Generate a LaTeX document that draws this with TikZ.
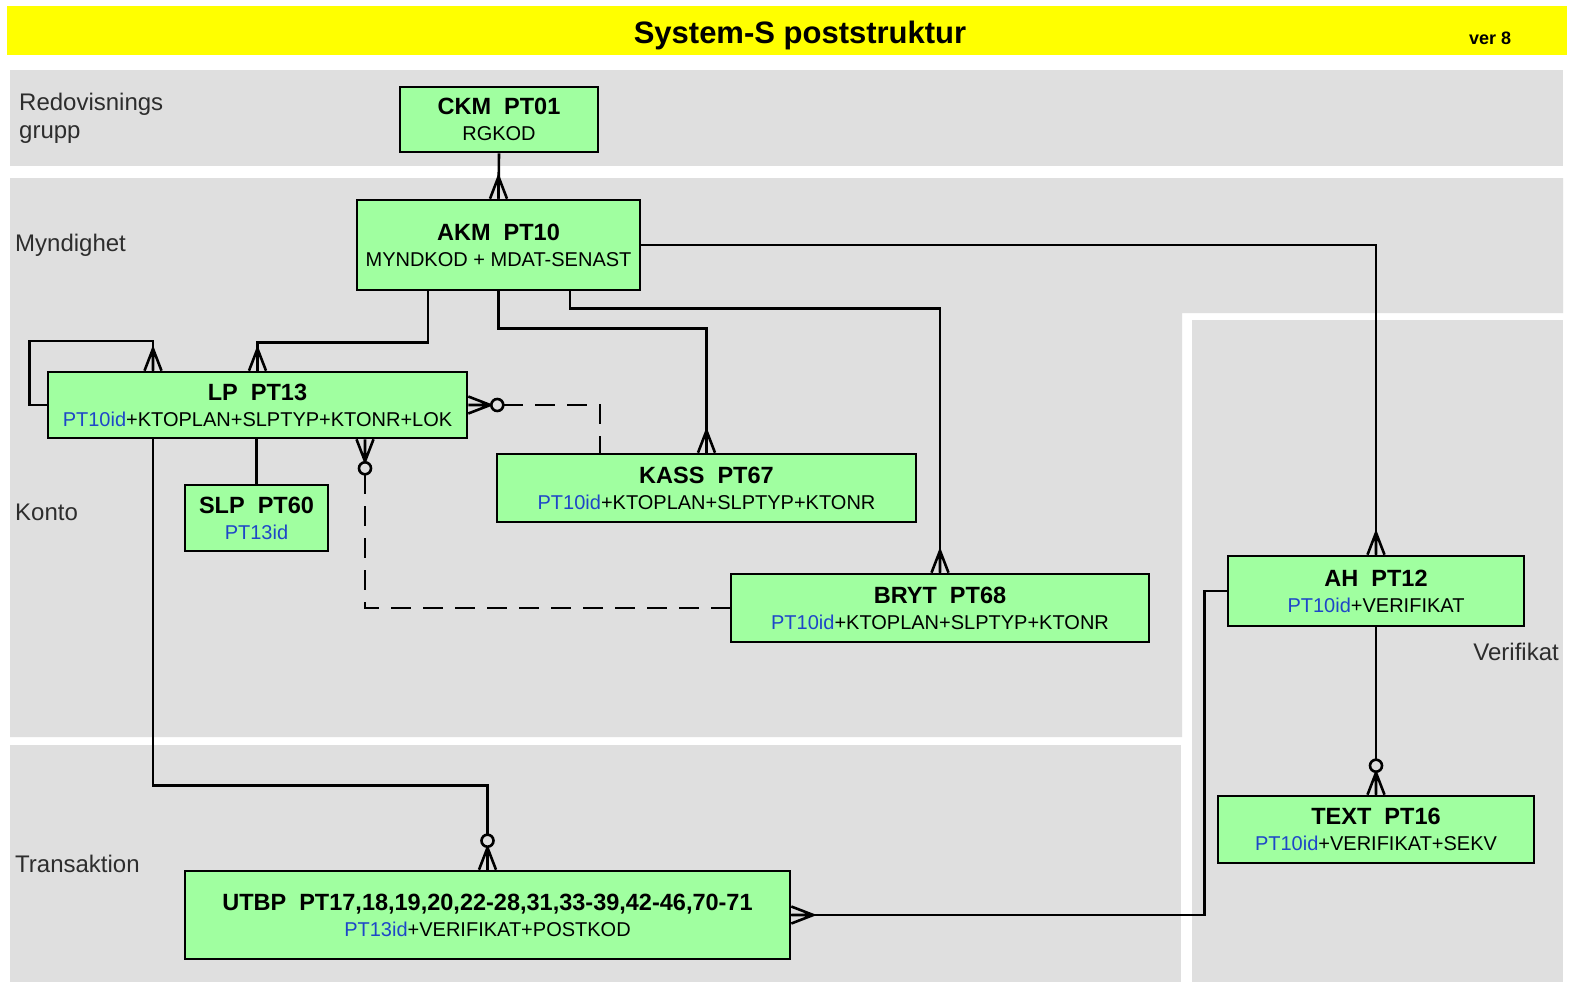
\documentclass[tikz,border=0pt]{standalone}
\usepackage{fontspec}
\setmainfont{Liberation Sans}
\definecolor{barYellow}{RGB}{255,255,0}
\definecolor{bandGrey}{RGB}{223,223,223}
\definecolor{boxGreen}{RGB}{160,255,160}
\definecolor{keyBlue}{RGB}{30,70,200}
\definecolor{lblGrey}{RGB}{45,45,45}
\newcommand{\hd}[1]{{\fontsize{23.5}{26}\selectfont\bfseries #1}}
\newcommand{\pk}[1]{\textcolor{keyBlue}{#1}}
\tikzset{
  entity/.style={draw, line width=2.6pt, fill=boxGreen, align=center, inner sep=0pt,
    font=\fontsize{20}{26}\selectfont},
  lbl/.style={font=\fontsize{24}{28}\selectfont, text=lblGrey, align=left, inner sep=0pt},
  rel/.style={line width=2.6pt},
  optrel/.style={rel, dash pattern=on 20pt off 12pt},
  crowN/.pic={\draw[rel] (-8.5,0) -- (0,-22) -- (8.5,0) (0,0) -- (0,-22);},
  crowS/.pic={\draw[rel] (-8.5,0) -- (0,22) -- (8.5,0) (0,0) -- (0,22);},
  crowE/.pic={\draw[rel] (0,-8.5) -- (22,0) -- (0,8.5) (0,0) -- (22,0);},
  zeroN/.pic={\draw[rel, fill=bandGrey] (0,-29) circle[radius=6pt];},
  zeroS/.pic={\draw[rel, fill=bandGrey] (0,29) circle[radius=6pt];},
  zeroE/.pic={\draw[rel, fill=bandGrey] (29,0) circle[radius=6pt];},
}

\begin{document}
\begin{tikzpicture}[x=1pt,y=-1pt]
\useasboundingbox[fill=white] (0,0) rectangle (1573,982);
% bands
\fill[barYellow] (7,6) rectangle (1567,55);
\fill[bandGrey] (10,70) rectangle (1563,166);
\fill[bandGrey] (10,178) -- (1563,178) -- (1563,313) -- (1182,313) -- (1182,737) -- (10,737) -- cycle;
\fill[bandGrey] (1192,320) rectangle (1563,982);
\fill[bandGrey] (10,745) rectangle (1181,982);
\node[font=\fontsize{31}{34}\selectfont\bfseries] (title) at (800,35) {System-S poststruktur};
\node[font=\fontsize{18}{20}\selectfont\bfseries] (ver) at (1490,38) {ver 8};
\node[lbl, anchor=west] (redlbl) at (19,118) {Redovisnings\\grupp};
\node[lbl, anchor=west] (mynlbl) at (15,245) {Myndighet};
\node[lbl, anchor=west] (konlbl) at (15,512) {Konto};
\node[lbl, anchor=east] (verlbl) at (1559,652) {Verifikat};
\node[lbl, anchor=west] (trnlbl) at (15,864) {Transaktion};
% entities
\node[entity, minimum width=198, minimum height=65] (ckm) at (499,119.5)
  {\hd{CKM\ \ PT01}\\RGKOD};
\node[entity, minimum width=283, minimum height=90] (akm) at (498.5,245)
  {\hd{AKM\ \ PT10}\\MYNDKOD + MDAT-SENAST};
\node[entity, minimum width=419, minimum height=66] (lp) at (257.5,405)
  {\hd{LP\ \ PT13}\\\pk{PT10id}+KTOPLAN+SLPTYP+KTONR+LOK};
\node[entity, minimum width=143, minimum height=66] (slp) at (256.5,518)
  {\hd{SLP\ \ PT60}\\\pk{PT13id}};
\node[entity, minimum width=419, minimum height=68] (kass) at (706.5,488)
  {\hd{KASS\ \ PT67}\\\pk{PT10id}+KTOPLAN+SLPTYP+KTONR};
\node[entity, minimum width=418, minimum height=68] (bryt) at (940,608)
  {\hd{BRYT\ \ PT68}\\\pk{PT10id}+KTOPLAN+SLPTYP+KTONR};
\node[entity, minimum width=296, minimum height=70] (ah) at (1376,591)
  {\hd{AH\ \ PT12}\\\pk{PT10id}+VERIFIKAT};
\node[entity, minimum width=316, minimum height=67] (text) at (1376,829.5)
  {\hd{TEXT\ \ PT16}\\\pk{PT10id}+VERIFIKAT+SEKV};
\node[entity, minimum width=605, minimum height=88] (utbp) at (487.5,915)
  {\hd{UTBP\ \ PT17,18,19,20,22-28,31,33-39,42-46,70-71}\\\pk{PT13id}+VERIFIKAT+POSTKOD};
% connectors
\draw[rel] (ckm.south) -- (akm.north);
\draw[rel] ([xshift=-70.5pt]akm.south) -- ++(0,51) -| (lp.north);
\draw[rel] (lp.west) -- ++(-17,0) -- ++(0,-64) -| ([xshift=-104.5pt]lp.north);
\draw[rel] (akm.south) -- ++(0,37) -| (kass.north);
\draw[rel] ([xshift=71.5pt]akm.south) -- ++(0,17) -| (bryt.north);
\draw[rel] (akm.east) -| (ah.north);
\draw[rel] (lp.south -| slp.north) -- (slp.north);
\draw[rel] ([xshift=-104.5pt]lp.south) -- ++(0,346) -| (utbp.north);
\draw[optrel] ([xshift=35pt]lp.east) -| ([xshift=-106.5pt]kass.north);
\draw[optrel] ([xshift=107.5pt,yshift=-35pt]lp.south) |- (bryt.west);
\draw[rel] (utbp.east) -- ++(413,0) |- (ah.west);
\draw[rel] (ah.south) -- (text.north);
% crow's feet
\pic at (akm.north) {crowN};
\pic at (lp.north) {crowN};
\pic at ([xshift=-104.5pt]lp.north) {crowN};
\pic at (kass.north) {crowN};
\pic at (bryt.north) {crowN};
\pic at (ah.north) {crowN};
\pic at (lp.east) {crowE};
\pic at (lp.east) {zeroE};
\pic at ([xshift=107.5pt]lp.south) {crowS};
\pic at ([xshift=107.5pt]lp.south) {zeroS};
\pic at (utbp.north) {crowN};
\pic at (utbp.north) {zeroN};
\pic at (utbp.east) {crowE};
\pic at (text.north) {crowN};
\pic at (text.north) {zeroN};
\end{tikzpicture}
\end{document}
